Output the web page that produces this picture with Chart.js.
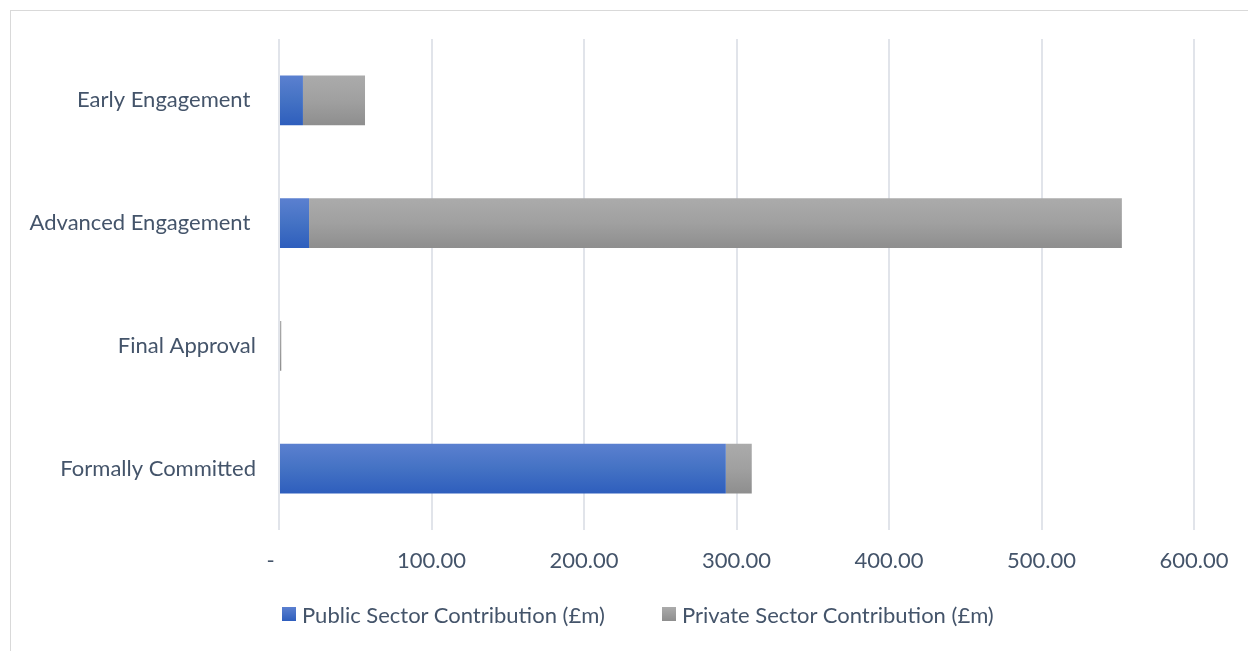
<!DOCTYPE html>
<html>
<head>
<meta charset="utf-8">
<script src="https://cdn.jsdelivr.net/npm/chart.js@4/dist/chart.umd.min.js"></script>
<style>
  html, body { margin: 0; padding: 0; background: #ffffff; overflow: hidden; }
  #frame { position: absolute; left: 10px; top: 10px; width: 1400px; height: 800px; border: 1px solid #D9D9D9; box-sizing: border-box; }
  #wrap { position: absolute; left: 0; top: 0; width: 1248px; height: 651px; }
  .leg { position: absolute; top: 601px; height: 26px; display: flex; align-items: center; font-family: Lato, sans-serif; font-size: 22px; color: #44546A; white-space: nowrap; }
  .sw { width: 14px; height: 14px; margin-right: 6px; }
</style>
</head>
<body>
<div id="frame"></div>
<div id="wrap"><canvas id="c" width="1248" height="651"></canvas></div>
<div class="leg" style="left:282px"><span class="sw" style="background:linear-gradient(#5B80D0,#2E5EBD)"></span><span id="l0"></span></div>
<div class="leg" style="left:662px"><span class="sw" style="background:linear-gradient(#ABABAB,#8E8E8E)"></span><span id="l1"></span></div>
<script>
const categories = ["Early Engagement ", "Advanced Engagement ", "Final Approval", "Formally Committed"];
const seriesNames = ["Public Sector Contribution (£m)", "Private Sector Contribution (£m)"];
const publicValues = [15.7, 19.7, 0, 293];
const privateValues = [40.7, 533, 1.5, 17];
const xTicks = [0, 100, 200, 300, 400, 500, 600];

document.getElementById('l0').textContent = seriesNames[0];
document.getElementById('l1').textContent = seriesNames[1];

const TEXT = '#44546A';
const FONT = 'Lato, sans-serif';

function gradFill(top, mid, bottom) {
  return function (ctx) {
    const chart = ctx.chart;
    const y = chart.scales && chart.scales.y;
    if (!y || ctx.type !== 'data' || !chart.chartArea) return mid;
    const yc = y.getPixelForValue(ctx.dataIndex);
    const step = Math.abs(y.getPixelForValue(1) - y.getPixelForValue(0)) || 120;
    const h = step * 0.407 / 2;
    const g = chart.ctx.createLinearGradient(0, yc - h, 0, yc + h);
    g.addColorStop(0, top);
    g.addColorStop(0.5, mid);
    g.addColorStop(1, bottom);
    return g;
  };
}

new Chart(document.getElementById('c'), {
  type: 'bar',
  data: {
    labels: categories,
    datasets: [
      { label: seriesNames[0], data: publicValues, backgroundColor: gradFill('#5B80D0', '#4472C4', '#2E5EBD'), borderWidth: 0 },
      { label: seriesNames[1], data: privateValues, backgroundColor: gradFill('#ABABAB', '#A0A0A0', '#8E8E8E'), borderWidth: 0 }
    ]
  },
  options: {
    indexAxis: 'y',
    responsive: false,
    animation: false,
    devicePixelRatio: 1,
    layout: { padding: { left: 0, right: 54, top: 39, bottom: 0 } },
    categoryPercentage: 1,
    barPercentage: 0.407,
    plugins: { legend: { display: false }, tooltip: { enabled: false } },
    scales: {
      x: {
        stacked: true,
        min: 0, max: 600,
        afterBuildTicks: (s) => { s.ticks = xTicks.map(v => ({ value: v })); },
        afterFit: (s) => { s.height = 121; },
        grid: { color: '#E1E4EA', lineWidth: 2, drawTicks: false },
        border: { display: false },
        ticks: {
          padding: 18,
          color: TEXT,
          font: { family: FONT, size: 22 },
          callback: (v) => v === 0 ? '-   ' : Number(v).toFixed(2)
        }
      },
      y: {
        stacked: true,
        afterFit: (s) => { s.width = 279; },
        grid: { display: false, drawTicks: false },
        border: { display: false },
        ticks: { padding: 23, color: TEXT, font: { family: FONT, size: 22 } }
      }
    }
  }
});
</script>
</body>
</html>
